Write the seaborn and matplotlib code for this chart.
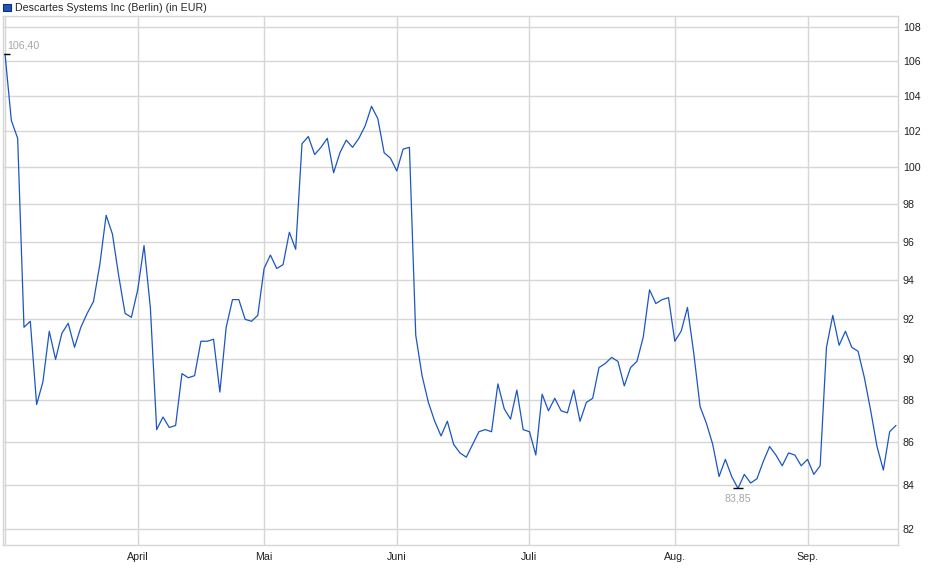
import matplotlib
matplotlib.use("Agg")
import matplotlib.pyplot as plt
from matplotlib.patches import Patch
from matplotlib.ticker import FixedLocator, NullLocator
import seaborn as sns
import pandas as pd

# ----------------------------
# Data (one value per trading day)
# ----------------------------
prices = [
    106.4, 102.6, 101.6, 91.6, 91.9, 87.8, 88.9, 91.4, 90.0, 91.3,
    91.8, 90.6, 91.6, 92.3, 92.9, 94.8, 97.4, 96.4, 94.2, 92.3,
    92.1, 93.5, 95.8, 92.6, 86.6, 87.2, 86.7, 86.8, 89.3, 89.1,
    89.2, 90.9, 90.9, 91.0, 88.4, 91.6, 93.0, 93.0, 92.0, 91.9,
    92.2, 94.6, 95.3, 94.6, 94.8, 96.5, 95.6, 101.3, 101.7, 100.7,
    101.1, 101.6, 99.7, 100.8, 101.5, 101.1, 101.6, 102.3, 103.4, 102.7,
    100.8, 100.5, 99.8, 101.0, 101.1, 91.2, 89.2, 87.9, 87.0, 86.3,
    87.0, 85.9, 85.5, 85.3, 85.9, 86.5, 86.6, 86.5, 88.8, 87.6,
    87.1, 88.5, 86.6, 86.5, 85.4, 88.3, 87.5, 88.1, 87.5, 87.4,
    88.5, 87.0, 87.9, 88.1, 89.6, 89.8, 90.1, 89.9, 88.7, 89.6,
    89.9, 91.1, 93.5, 92.8, 93.0, 93.1, 90.9, 91.4, 92.6, 90.3,
    87.7, 86.9, 85.9, 84.4, 85.2, 84.4, 83.85, 84.5, 84.1, 84.3,
    85.1, 85.8, 85.4, 84.9, 85.5, 85.4, 84.9, 85.2, 84.5, 84.9,
    90.6, 92.2, 90.7, 91.4, 90.6, 90.4, 89.1, 87.5, 85.8, 84.7,
    86.5, 86.8,
]
day = list(range(len(prices)))

month_labels = ["April", "Mai", "Juni", "Juli", "Aug.", "Sep."]
month_start_day = [21, 41, 62, 83, 106, 127]
y_ticks = [82, 84, 86, 88, 90, 92, 94, 96, 98, 100, 102, 104, 106, 108]

title = "Descartes Systems Inc (Berlin) (in EUR)"

df = pd.DataFrame({"day": day, "price": prices})

# ----------------------------
# Style
# ----------------------------
sns.set_style("white")
plt.rcParams["font.family"] = ["Liberation Sans", "DejaVu Sans"]

LINE = "#1b56c2"
GRID = "#d6d6d6"
LABEL = "#a6a6a6"
FS = 7.7

fig = plt.figure(figsize=(9.4, 5.79), dpi=100)
W, H = 940, 579
ax = fig.add_axes([3 / W, (H - 545) / H, 895 / W, 529 / H])

sns.lineplot(data=df, x="day", y="price", color=LINE, linewidth=0.9, ax=ax)

ax.set_yscale("log")
ax.set_xlim(-0.32, len(prices) - 1 + 0.32)
ax.set_ylim(81.29, 108.65)

ax.yaxis.set_major_locator(FixedLocator(y_ticks))
ax.yaxis.set_minor_locator(NullLocator())
ax.set_yticklabels([str(t) for t in y_ticks])
ax.yaxis.tick_right()

ax.set_xticks([0] + month_start_day)
ax.set_xticklabels([""] + month_labels)

ax.grid(True, color=GRID, linewidth=1.0)
ax.set_axisbelow(True)
for s in ax.spines.values():
    s.set_color(GRID)
    s.set_linewidth(1.0)

ax.tick_params(axis="y", length=0, pad=3.5, labelsize=FS, colors="#222222")
ax.tick_params(axis="x", length=3, width=1, color=GRID, pad=2,
               labelsize=FS, labelcolor="#222222")
ax.set_xlabel("")
ax.set_ylabel("")

# high / low markers
i_hi = prices.index(max(prices))
i_lo = prices.index(min(prices))
for i, dy in [(i_hi, 9), (i_lo, -10)]:
    ax.plot(day[i], prices[i], marker="_", color="black", markersize=7,
            markeredgewidth=1.0)
    txt = f"{prices[i]:.2f}".replace(".", ",")
    ax.annotate(txt, (day[i], prices[i]), xytext=(2 if i == i_hi else 0, dy),
                textcoords="offset pixels", ha="left" if i == i_hi else "center",
                va="center", fontsize=FS, color=LABEL)

# title entry with square marker
fig.legend(handles=[Patch(facecolor="#1f55b8", edgecolor="#0d2f73", linewidth=0.8)],
           labels=[title], loc="upper left", bbox_to_anchor=(-3 / W, 1.0 + 3 / H),
           frameon=False, handlelength=0.7, handleheight=0.7, handletextpad=0.4,
           borderaxespad=0.2, fontsize=FS)

fig.savefig("out.png", dpi=100)
